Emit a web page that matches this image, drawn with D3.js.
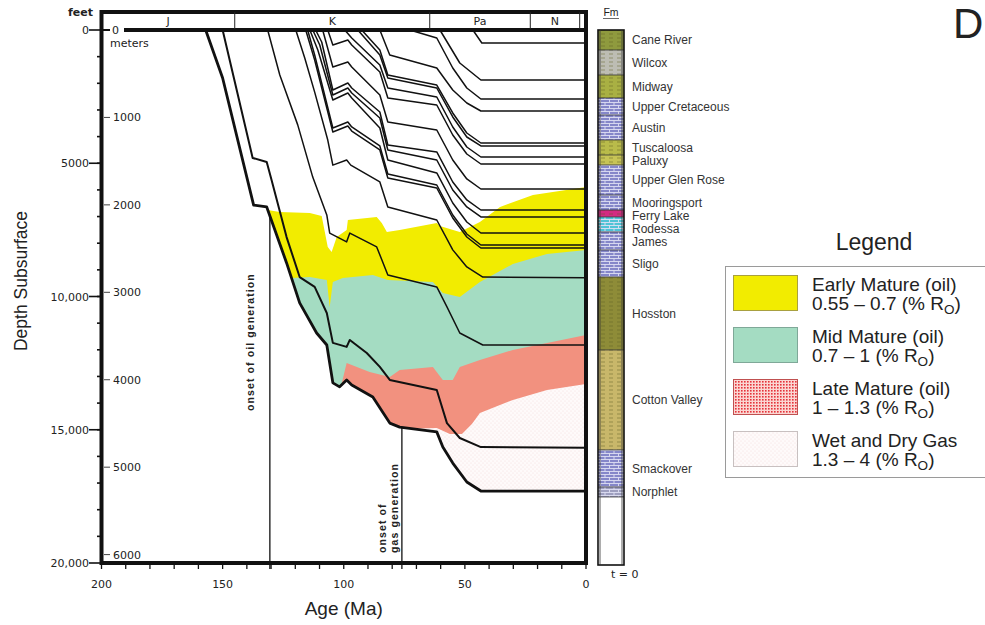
<!DOCTYPE html>
<html>
<head>
<meta charset="utf-8">
<script src="https://cdn.jsdelivr.net/npm/d3@7"></script>
<style>
  body { margin: 0; background: #fff; }
  text { font-family: "Liberation Sans", Arial, sans-serif; }
  .tick { font-family: "DejaVu Sans", sans-serif; font-size: 11px; fill: #222; }
</style>
</head>
<body>
<svg id="chart" width="985" height="625"></svg>
<script>
// ages in Ma, depths in feet below surface
const burialNorphlet = [[157,0],[150,1800],[137.2,6570],[131.8,6640],[123.6,8740],[118.2,10240],[111.2,11370],[107,11820],[104.5,13240],[101.7,13390],[98.8,13130],[96.7,13320],[88,13770],[81,14750],[76.9,14900],[61.6,15080],[59.1,15650],[55,16250],[49.2,16960],[43.4,17300],[0,17300]];
const burialSmackover = [[150,0],[137.6,4800],[131.8,4950],[129.8,5630],[123.6,7770],[118.2,9270],[112,9640],[107,10620],[104.5,11740],[98.8,11890],[97.5,11630],[90.5,12120],[85.1,12640],[81,13130],[61.6,13510],[57.4,14750],[52.1,15310],[43.4,15650],[0,15680]];
const burialCottonValley = [[131.4,0],[126.4,1690],[119,3560],[112.8,5520],[107,6940],[105.8,7620],[98.8,7950],[97.5,7620],[86.4,8140],[81.8,9190],[61.6,9640],[57.4,10390],[52.1,11370],[42.6,11820],[0,11820]];
const burialHosston = [[119.8,0],[116.1,1050],[112,2330],[106.6,4130],[104.5,5070],[98.8,4880],[97.1,5070],[85.1,5700],[81.8,6640],[61.6,7130],[55,8250],[49.2,8890],[42.6,9270],[0,9300]];
const burialSligo = [[115.7,0],[112,1126],[104.5,3827],[98.3,3602],[96.7,3790],[85.1,4502],[81.8,5553],[61.6,5928],[55,7054],[49.2,7767],[43.4,8179],[0,8179]];
const burialPineIsland = [[114.9,0],[112,938],[104.5,3677],[98.3,3452],[96.7,3639],[85.1,4352],[81.8,5403],[61.6,5816],[55,6941],[49.2,7654],[43.4,8067],[0,8067]];
const burialJames = [[114,0],[110.7,750],[104.5,2626],[98.3,2364],[96.7,2551],[85.1,3677],[81.8,4878],[61.6,5365],[55,6491],[49.2,7204],[43.4,7617],[0,7617]];
const burialRodessa = [[112.8,0],[109.9,563],[104.5,2439],[98.3,2176],[96.7,2364],[85.1,3302],[81.8,4502],[61.6,4878],[55,6003],[49.2,6641],[43.4,7016],[0,7016]];
const burialFerryLake = [[111.6,0],[109.1,450],[104.5,2251],[98.3,1989],[96.7,2176],[85.1,3077],[81.8,4315],[61.6,4577],[55,5703],[49.2,6378],[43.4,6754],[0,6754]];
const burialMooringsport = [[108.7,0],[104.5,1388],[98.3,1201],[96.7,1388],[85.1,2439],[81.8,3452],[61.6,3752],[55,4878],[49.2,5590],[43.4,5966],[0,5966]];
const burialUpperGlenRose = [[106.6,0],[104.5,563],[98.3,375],[96.7,563],[85.1,1576],[81.8,2551],[61.6,2814],[55,3940],[49.2,4653],[43.4,5028],[0,5028]];
const burialPaluxy = [[99.6,0],[96.7,300],[85.1,1313],[81.8,2176],[61.6,2514],[55,3639],[49.2,4390],[43.4,4765],[0,4765]];
const burialLowerTusc = [[94.2,0],[85.1,938],[81.8,1801],[61.6,2176],[55,3264],[49.2,4015],[43.4,4352],[0,4352]];
const burialTuscaloosa = [[92.6,0],[85.1,750],[81.8,1688],[61.6,2064],[55,3114],[49.2,3865],[43.4,4240],[0,4240]];
const burialAustin = [[85.1,0],[81,938],[61.6,1426],[55,2251],[49.2,2739],[43.4,3039],[0,3039]];
const burialUpperCret = [[72.7,0],[61.6,300],[55,1426],[49.2,2176],[43.4,2589],[0,2589]];
const burialMidway = [[60.3,0],[52.1,1238],[43.4,1876],[0,1876]];
const burialWilcox = [[46.7,0],[43,488],[0,488]];

// vitrinite reflectance isolines (% Ro)
const iso055 = [[133.9,6829],[131.4,6754],[126.4,6829],[114,6866],[109.1,6979],[106.6,8142],[105,8329],[102.9,7767],[98.8,7504],[98.3,7129],[86.4,7016],[84.3,7241],[82.2,7579],[76.9,7504],[61.6,7241],[60.3,7354],[52.1,7579],[43.8,7204],[35.5,6641],[21.9,6191],[0,5891]];
const iso07 = [[132.2,8705],[121.5,9305],[114,9267],[107,9380],[105.8,10393],[104.5,9455],[100.4,9305],[88,9192],[81.8,9380],[63.2,9455],[59.1,9868],[52.1,10018],[43.8,9455],[30.2,8780],[16.1,8404],[0,8254]];
const iso10 = [[105.8,13695],[101.7,13582],[98.8,12494],[89.3,12832],[81,13019],[76.9,12757],[63.2,12644],[59.1,13132],[55,13132],[52.1,12644],[43.8,12382],[30.2,12006],[16.1,11744],[0,11444]];
const iso13 = [[83.1,15083],[76.9,14970],[61.6,14933],[56.2,15158],[51.2,15158],[47.1,14783],[43.8,14370],[30.2,13882],[16.1,13507],[0,13282]];

const periodNames = ["J", "K", "Pa", "N"];
const periodBounds = [200, 145, 64.5, 23, 2.6];
const feetTicks = [0, 5000, 10000, 15000, 20000];
const feetLabels = ["0", "5000", "10,000", "15,000", "20,000"];
const meterTicks = [1000, 2000, 3000, 4000, 5000, 6000];
const ageTicks = [200, 150, 100, 50, 0];
const onsetOil = 130.5, onsetGas = 76;

const formations = ["Cane River","Wilcox","Midway","Upper Cretaceous","Austin","Tuscaloosa","Paluxy","Upper Glen Rose","Mooringsport","Ferry Lake","Rodessa","James","Sligo","Hosston","Cotton Valley","Smackover","Norphlet"];
const fmTopsFt = [0,750,1688,2551,3189,4127,4690,5065,6191,6754,7016,7579,8254,9267,12006,15758,17147];
const columnBaseFt = 17522;
const fmColors = ["#8f9a3e","#bdbdb3","#a9b043","#8587c9","#8587c9","#b9bb4a","#c7c456","#8587c9","#8587c9","#d42a82","#4fc3d6","#8587c9","#8587c9","#8e8c38","#c8b76a","#8587c9","#9e9fbf"];
const fmLime = [0,0,0,1,1,0,0,1,1,0,1,1,1,0,0,1,1];

const legendTitles = ["Early Mature (oil)", "Mid Mature (oil)", "Late Mature (oil)", "Wet and Dry Gas"];
const legendRanges = ["0.55 \u2013 0.7 (% R", "0.7 \u2013 1 (% R", "1 \u2013 1.3 (% R", "1.3 \u2013 4 (% R"];

const horizons = [burialNorphlet, burialSmackover, burialCottonValley, burialHosston, burialSligo, burialPineIsland,
  burialJames, burialRodessa, burialFerryLake, burialMooringsport, burialUpperGlenRose, burialPaluxy,
  burialLowerTusc, burialTuscaloosa, burialAustin, burialUpperCret, burialMidway, burialWilcox];

const svg = d3.select("#chart");
const x = d3.scaleLinear().domain([200, 0]).range([101.5, 586]);
const y = d3.scaleLinear().domain([0, 20000]).range([30, 563]);
const yM = d3.scaleLinear().domain([0, 20000 / 3.28084]).range([30, 563]);

const defs = svg.append("defs");
defs.append("clipPath").attr("id", "envelope").append("path")
  .attr("d", d3.area().x(d => x(d[0])).y0(y(0)).y1(d => y(d[1]))(burialNorphlet));

const redDots = defs.append("pattern").attr("id", "redDots")
  .attr("width", 3).attr("height", 3).attr("patternUnits", "userSpaceOnUse");
redDots.append("rect").attr("width", 3).attr("height", 3).attr("fill", "#fbd6d2");
redDots.append("rect").attr("width", 1.6).attr("height", 1.6).attr("fill", "#e5333b");

const gasDots = defs.append("pattern").attr("id", "gasDots")
  .attr("width", 4).attr("height", 4).attr("patternUnits", "userSpaceOnUse");
gasDots.append("rect").attr("width", 4).attr("height", 4).attr("fill", "#fefafa");
gasDots.append("circle").attr("cx", 1).attr("cy", 1).attr("r", 0.6).attr("fill", "#f4dcdc");
gasDots.append("circle").attr("cx", 3).attr("cy", 3).attr("r", 0.6).attr("fill", "#f4dcdc");

const brick = defs.append("pattern").attr("id", "brick")
  .attr("width", 9).attr("height", 6).attr("patternUnits", "userSpaceOnUse");
brick.append("path").attr("d", "M0,0.5H9M0,3.5H9M2,0.5V3.5M6.5,3.5V6.5")
  .attr("stroke", "#dfe0f4").attr("stroke-width", 0.9).attr("fill", "none");

const dash = defs.append("pattern").attr("id", "dash")
  .attr("width", 8).attr("height", 4).attr("patternUnits", "userSpaceOnUse");
dash.append("path").attr("d", "M1,2H5").attr("stroke", "#5a5a20").attr("stroke-width", 0.8).attr("opacity", 0.6);

// maturity zones: each painted from its upper isoline down, clipped to burial envelope
const fillArea = d3.area().x(d => x(d[0])).y0(y(20000)).y1(d => y(d[1]));
const zones = svg.append("g").attr("clip-path", "url(#envelope)");
zones.append("path").attr("d", fillArea(iso055)).attr("fill", "#f2ec00");
zones.append("path").attr("d", fillArea(iso07)).attr("fill", "#a4dcc2");
zones.append("path").attr("d", fillArea(iso10)).attr("fill", "#f2917f");
zones.append("path").attr("d", fillArea(iso13)).attr("fill", "url(#gasDots)");

// burial history lines
const line = d3.line().x(d => x(d[0])).y(d => y(d[1]));
svg.append("g").selectAll("path").data(horizons).join("path")
  .attr("d", line)
  .attr("fill", "none")
  .attr("stroke", "#111")
  .attr("stroke-linejoin", "round")
  .attr("stroke-width", (d, i) => i === 0 ? 2.8 : i === 1 ? 2 : 1.5);

// onset lines
const depthAt = age => {
  const a = burialNorphlet.find((p, i) => burialNorphlet[i + 1] && burialNorphlet[i + 1][0] <= age && p[0] >= age);
  const b = burialNorphlet[burialNorphlet.indexOf(a) + 1];
  return a[1] + (b[1] - a[1]) * (a[0] - age) / (a[0] - b[0]);
};
[onsetOil, onsetGas].forEach(a => {
  svg.append("line").attr("x1", x(a)).attr("x2", x(a))
    .attr("y1", y(depthAt(a))).attr("y2", y(20000) + 6)
    .attr("stroke", "#111").attr("stroke-width", 1.3);
});
const vText = (tx, ty, str) => svg.append("text")
  .attr("transform", `translate(${tx},${ty}) rotate(-90)`)
  .attr("font-size", 10.5).attr("font-weight", "bold").attr("letter-spacing", 1.1)
  .attr("fill", "#222").text(str);
vText(x(onsetOil) - 16, 411, "onset of oil generation");
vText(x(onsetGas) - 16, 553, "onset of");
vText(x(onsetGas) - 4, 553, "gas generation");

// frame
svg.append("rect").attr("x", x(200)).attr("y", 12).attr("width", x(0) - x(200)).attr("height", y(20000) - 12)
  .attr("fill", "none").attr("stroke", "#111").attr("stroke-width", 4);
svg.append("line").attr("x1", 124).attr("x2", x(0)).attr("y1", y(0)).attr("y2", y(0))
  .attr("stroke", "#111").attr("stroke-width", 4);

// geologic time band
svg.append("g").selectAll("line").data(periodBounds.slice(1)).join("line")
  .attr("x1", d => x(d)).attr("x2", d => x(d)).attr("y1", 12).attr("y2", 29)
  .attr("stroke", "#222").attr("stroke-width", 1);
svg.append("g").selectAll("text").data(periodNames).join("text")
  .attr("class", "tick").attr("font-size", 9)
  .attr("x", (d, i) => x((periodBounds[i] + periodBounds[i + 1]) / 2))
  .attr("y", 25).attr("text-anchor", "middle").text(d => d);

// feet axis (left)
const gFeet = svg.append("g");
gFeet.selectAll("line.minor").data(d3.range(1000, 20000, 1000)).join("line")
  .attr("x1", 97).attr("x2", 101).attr("y1", d => y(d)).attr("y2", d => y(d))
  .attr("stroke", "#111").attr("stroke-width", 1.6);
gFeet.selectAll("line.major").data(feetTicks).join("line")
  .attr("x1", 89).attr("x2", 101).attr("y1", d => y(d)).attr("y2", d => y(d))
  .attr("stroke", "#111").attr("stroke-width", 1.6);
gFeet.selectAll("text").data(feetTicks).join("text")
  .attr("class", "tick").attr("x", 89).attr("y", d => y(d) + 4).attr("text-anchor", "end")
  .text((d, i) => feetLabels[i]);
svg.append("text").attr("class", "tick").attr("font-size", 9).attr("font-weight", "bold")
  .attr("x", 93).attr("y", 16).attr("text-anchor", "end").text("feet");

// meter axis (inside)
const gM = svg.append("g");
gM.selectAll("line").data(meterTicks).join("line")
  .attr("x1", 104).attr("x2", 110).attr("y1", d => yM(d)).attr("y2", d => yM(d))
  .attr("stroke", "#444").attr("stroke-width", 1);
gM.selectAll("text").data(meterTicks).join("text")
  .attr("class", "tick").attr("x", 113).attr("y", d => yM(d) + 4).text(d => d);
svg.append("line").attr("x1", 103).attr("x2", 110).attr("y1", y(0)).attr("y2", y(0)).attr("stroke", "#111").attr("stroke-width", 2);
svg.append("text").attr("class", "tick").attr("x", 112).attr("y", 34).text("0");
svg.append("text").attr("class", "tick").attr("font-size", 9).attr("x", 110).attr("y", 47).text("meters");

// age axis
svg.append("g").selectAll("line").data(d3.range(0, 201, 10)).join("line")
  .attr("x1", d => x(d)).attr("x2", d => x(d)).attr("y1", y(20000)).attr("y2", y(20000) + 6)
  .attr("stroke", "#111").attr("stroke-width", 1.3);
svg.append("g").selectAll("text").data(ageTicks).join("text")
  .attr("class", "tick").attr("font-size", 11.5).attr("x", d => x(d)).attr("y", 588)
  .attr("text-anchor", "middle").text(d => d);

svg.append("text").attr("x", (x(200) + x(0)) / 2).attr("y", 615).attr("text-anchor", "middle")
  .attr("font-size", 19).attr("fill", "#222").text("Age (Ma)");
svg.append("text").attr("transform", "translate(27,281) rotate(-90)").attr("text-anchor", "middle")
  .attr("font-size", 17.5).attr("fill", "#222").text("Depth Subsurface");

// lithology column
const colX = 598, colW = 26;
const col = svg.append("g");
const fmBase = (i) => i + 1 < fmTopsFt.length ? fmTopsFt[i + 1] : columnBaseFt;
col.selectAll("rect.fm").data(formations).join("rect")
  .attr("x", colX).attr("width", colW)
  .attr("y", (d, i) => y(fmTopsFt[i])).attr("height", (d, i) => y(fmBase(i)) - y(fmTopsFt[i]))
  .attr("fill", (d, i) => fmColors[i]);
col.selectAll("rect.pat").data(formations).join("rect")
  .attr("x", colX).attr("width", colW)
  .attr("y", (d, i) => y(fmTopsFt[i])).attr("height", (d, i) => y(fmBase(i)) - y(fmTopsFt[i]))
  .attr("fill", (d, i) => fmLime[i] ? "url(#brick)" : "url(#dash)");
col.selectAll("line").data(fmTopsFt.slice(1).concat([columnBaseFt])).join("line")
  .attr("x1", colX).attr("x2", colX + colW).attr("y1", d => y(d)).attr("y2", d => y(d))
  .attr("stroke", "#333").attr("stroke-width", 0.8);
col.append("rect").attr("x", colX).attr("y", y(0)).attr("width", colW).attr("height", 565 - y(0))
  .attr("fill", "none").attr("stroke", "#111").attr("stroke-width", 1.6);
col.append("line").attr("x1", colX + 2).attr("x2", colX + 2).attr("y1", y(0)).attr("y2", 565).attr("stroke", "#333").attr("stroke-width", 0.8);
col.append("line").attr("x1", colX + colW - 2).attr("x2", colX + colW - 2).attr("y1", y(0)).attr("y2", 565).attr("stroke", "#333").attr("stroke-width", 0.8);
svg.append("text").attr("x", colX + colW / 2).attr("y", 16).attr("text-anchor", "middle")
  .attr("font-size", 10.5).attr("fill", "#222").text("Fm");
svg.append("line").attr("x1", colX + 5).attr("x2", colX + colW - 5).attr("y1", 18.5).attr("y2", 18.5).attr("stroke", "#444").attr("stroke-width", 0.8);
svg.append("text").attr("class", "tick").attr("font-size", 8.5).attr("x", 611).attr("y", 578).text("t = 0");

// formation labels at layer middles, pushed down where they would collide
const labelY = [];
formations.forEach((d, i) => {
  const mid = (y(fmTopsFt[i]) + y(fmBase(i))) / 2;
  labelY.push(i ? Math.max(mid, labelY[i - 1] + 13) : mid);
});
svg.append("g").selectAll("text").data(formations).join("text")
  .attr("x", 632).attr("y", (d, i) => labelY[i] + 4.2)
  .attr("font-size", 12).attr("fill", "#333").text(d => d);

// legend (white backing hides the label overflow on its left)
const lg = svg.append("g");
lg.append("rect").attr("x", 705).attr("y", 266).attr("width", 22).attr("height", 212).attr("fill", "#fff");
lg.append("text").attr("x", 874).attr("y", 250).attr("text-anchor", "middle")
  .attr("font-size", 23).attr("fill", "#222").text("Legend");
lg.append("rect").attr("x", 725.5).attr("y", 266.5).attr("width", 262).attr("height", 211)
  .attr("fill", "#fff").attr("stroke", "#9a9a9a").attr("stroke-width", 1);
const swFill = ["#f2ec00", "#a4dcc2", "url(#redDots)", "url(#gasDots)"];
const swStroke = ["#a8a040", "#7fa898", "#c05050", "#c8c0c0"];
legendTitles.forEach((t, i) => {
  const top = 275 + i * 52;
  lg.append("rect").attr("x", 733.5).attr("y", top + 0.5).attr("width", 64).attr("height", 35)
    .attr("fill", swFill[i]).attr("stroke", swStroke[i]);
  lg.append("text").attr("x", 812).attr("y", top + 16).attr("font-size", 19).attr("fill", "#222").text(t);
  const r = lg.append("text").attr("x", 812).attr("y", top + 35).attr("font-size", 19).attr("fill", "#222");
  r.append("tspan").text(legendRanges[i]);
  r.append("tspan").attr("font-size", 13.5).attr("dy", 4).text("O");
  r.append("tspan").attr("dy", -4).text(")");
});

svg.append("text").attr("x", 953).attr("y", 38).attr("font-size", 42).attr("fill", "#222").text("D");
</script>
</body>
</html>
